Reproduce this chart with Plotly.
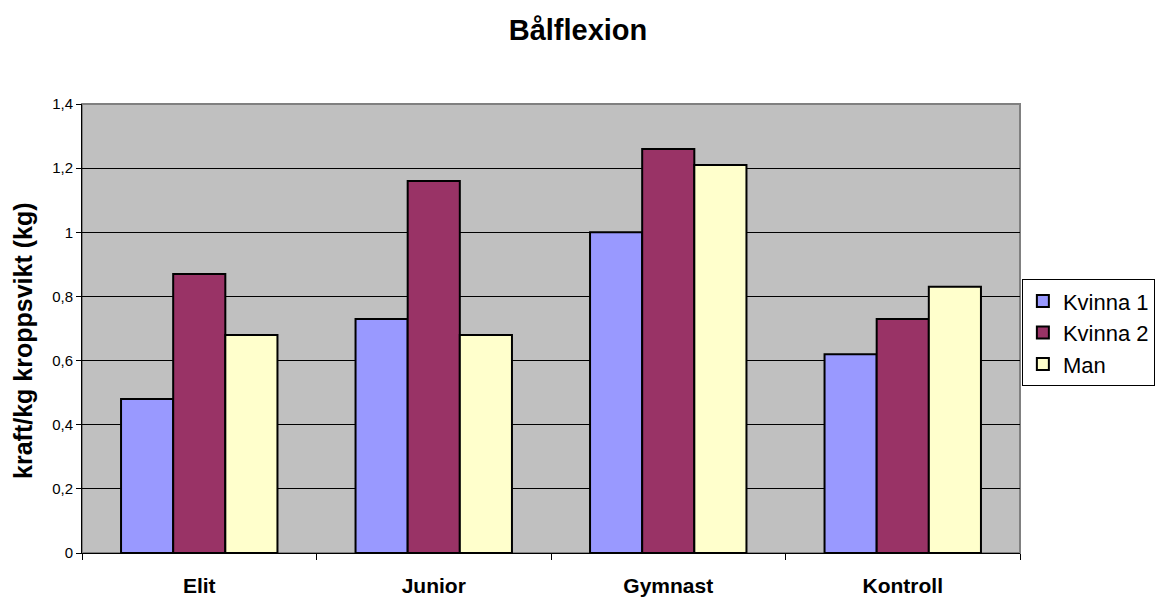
import plotly.graph_objects as go

# Categories and measured values (kraft per kg kroppsvikt)
categories = ["Elit", "Junior", "Gymnast", "Kontroll"]
kvinna1 = [0.48, 0.73, 1.00, 0.62]
kvinna2 = [0.87, 1.16, 1.26, 0.73]
man = [0.68, 0.68, 1.21, 0.83]
y_ticks = [0, 0.2, 0.4, 0.6, 0.8, 1.0, 1.2, 1.4]
y_tick_text = ["0", "0,2", "0,4", "0,6", "0,8", "1", "1,2", "1,4"]

series = [
    ("Kvinna 1", kvinna1, "#9999FF"),
    ("Kvinna 2", kvinna2, "#993366"),
    ("Man", man, "#FFFFCC"),
]

fig = go.Figure()
for name, vals, color in series:
    fig.add_trace(go.Bar(
        x=categories, y=vals, name=name,
        marker=dict(color=color, line=dict(color="#000000", width=2)),
    ))

FONT = "Arial, Liberation Sans, sans-serif"

fig.update_layout(
    width=1171, height=601,
    margin=dict(l=82, r=151, t=104, b=48, autoexpand=False),
    paper_bgcolor="#FFFFFF",
    plot_bgcolor="#C0C0C0",
    barmode="group",
    bargap=0.333,
    bargroupgap=0,
    title=dict(text="<b>Bålflexion</b>", x=0.4936, xref="container",
               xanchor="center", y=0.95, yref="container", yanchor="middle",
               font=dict(family=FONT, size=29, color="#000000")),
    font=dict(family=FONT, color="#000000"),
    showlegend=True,
    legend=dict(
        x=1.002, xanchor="left", y=0.61, yanchor="top",
        bgcolor="#FFFFFF", bordercolor="#000000", borderwidth=1,
        font=dict(family=FONT, size=22, color="#000000"),
        traceorder="normal", itemwidth=30,
    ),
    xaxis=dict(
        automargin=False,
        showline=True, linecolor="#000000", linewidth=1,
        ticks="outside", ticklen=6, tickcolor="#000000",
        tickson="boundaries", showgrid=False,
        tickfont=dict(family=FONT, size=21, color="#000000"),
        ticklabelstandoff=14,
        tickprefix="<b>", ticksuffix="</b>",
    ),
    yaxis=dict(
        automargin=False,
        range=[0, 1.4],
        tickvals=y_ticks, ticktext=y_tick_text,
        showline=True, linecolor="#000000", linewidth=1,
        ticks="outside", ticklen=5, tickcolor="#000000",
        showgrid=True, gridcolor="#000000", gridwidth=1,
        zeroline=False,
        tickfont=dict(family=FONT, size=15, color="#000000"),
    ),
)

# Grey frame around the plot area (top and right edges)
fig.add_shape(type="rect", xref="paper", yref="paper", x0=0, x1=1, y0=0, y1=1,
              line=dict(color="#808080", width=2), layer="below")

# Vertical axis title
fig.add_annotation(
    text="<b>kraft/kg kroppsvikt (kg)</b>", textangle=-90,
    xref="paper", yref="paper", x=-0.063, y=0.472,
    xanchor="center", yanchor="middle", showarrow=False,
    font=dict(family=FONT, size=25, color="#000000"),
)

fig.write_html("out.html")
